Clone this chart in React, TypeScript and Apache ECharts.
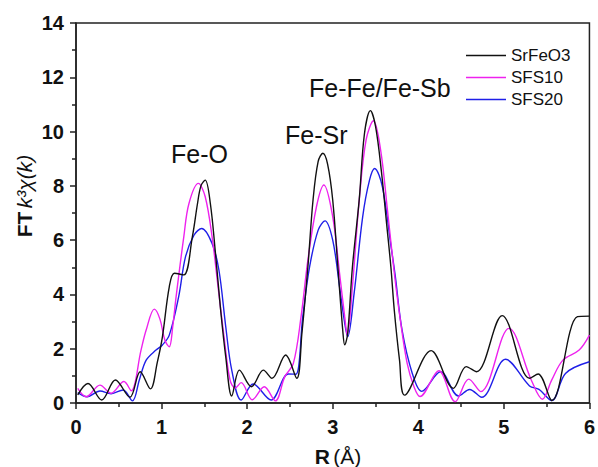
import React, { useEffect, useRef } from "react";
import * as echarts from "echarts";

// R (Å) positions and FT magnitudes for each sample
const rSrFeO3 = [0.02, 0.14, 0.30, 0.46, 0.63, 0.75, 0.87, 0.95, 1.01, 1.09, 1.15, 1.26, 1.36, 1.42, 1.46, 1.51, 1.57, 1.63, 1.69, 1.75, 1.82, 1.91, 2.05, 2.19, 2.29, 2.45, 2.58, 2.64, 2.71, 2.77, 2.83, 2.885, 2.94, 3.0, 3.06, 3.12, 3.14, 3.175, 3.23, 3.31, 3.37, 3.44, 3.50, 3.57, 3.63, 3.68, 3.72, 3.78, 3.84, 4.15, 4.41, 4.56, 4.68, 4.98, 5.30, 5.40, 5.56, 5.86, 6.0];
const ftSrFeO3 = [0.30, 0.72, 0.11, 0.85, 0.21, 1.15, 0.52, 1.5, 2.44, 4.28, 4.78, 4.72, 6.13, 7.35, 8.0, 8.21, 7.35, 5.51, 3.43, 1.7, 0.26, 1.21, 0.60, 1.21, 0.91, 1.77, 0.91, 2.57, 5.02, 7.48, 8.9, 9.2, 8.8, 7.48, 5.02, 2.57, 2.14, 2.57, 5.0, 7.5, 9.9, 10.77, 10.2, 8.5, 6.6, 5.0, 3.4, 1.6, 0.29, 1.93, 0.54, 1.34, 1.15, 3.22, 0.91, 1.07, 0.09, 3.18, 3.2];

const rSFS10 = [0.02, 0.12, 0.28, 0.41, 0.56, 0.645, 0.76, 0.82, 0.915, 0.98, 1.04, 1.09, 1.13, 1.17, 1.26, 1.32, 1.43, 1.51, 1.59, 1.66, 1.73, 1.80, 1.86, 1.93, 2.06, 2.20, 2.33, 2.44, 2.54, 2.63, 2.71, 2.81, 2.897, 3.0, 3.08, 3.14, 3.17, 3.23, 3.31, 3.39, 3.476, 3.56, 3.64, 3.72, 3.79, 3.87, 3.95, 4.02, 4.24, 4.43, 4.59, 4.73, 5.06, 5.32, 5.45, 5.56, 5.69, 5.88, 6.0];
const ftSFS10 = [0.54, 0.23, 0.66, 0.36, 0.79, 0.45, 1.95, 2.69, 3.46, 3.1, 2.3, 2.07, 2.8, 3.92, 6.13, 7.35, 8.09, 7.6, 6.13, 4.28, 2.44, 0.85, 0.55, 0.75, 0.12, 0.6, 0.08, 0.97, 1.46, 3.18, 5.27, 7.23, 8.03, 6.86, 4.78, 3.18, 2.5, 4.28, 7.48, 9.69, 10.4, 9.32, 7.1, 4.78, 3.06, 1.46, 0.6, 0.24, 1.19, 0.05, 0.88, 0.42, 2.75, 0.85, 0.14, 0.85, 1.58, 1.95, 2.5];

const rSFS20 = [0.02, 0.13, 0.28, 0.41, 0.55, 0.66, 0.74, 0.82, 0.935, 1.01, 1.09, 1.20, 1.28, 1.38, 1.47, 1.59, 1.67, 1.75, 1.82, 1.93, 2.07, 2.28, 2.48, 2.57, 2.65, 2.73, 2.83, 2.91, 3.0, 3.08, 3.14, 3.175, 3.25, 3.35, 3.43, 3.49, 3.58, 3.68, 3.73, 3.81, 3.93, 4.04, 4.26, 4.47, 4.60, 4.74, 5.02, 5.30, 5.41, 5.56, 5.72, 6.0];
const ftSFS20 = [0.38, 0.23, 0.44, 0.34, 0.48, 0.08, 0.85, 1.58, 1.95, 2.14, 2.5, 3.92, 5.39, 6.19, 6.43, 5.88, 4.9, 2.81, 1.21, 0.11, 0.7, 0.11, 1.07, 1.06, 3.18, 5.02, 6.37, 6.71, 6.0, 4.28, 2.94, 2.44, 4.04, 6.86, 8.21, 8.64, 7.97, 5.8, 4.7, 2.69, 1.09, 0.43, 1.15, 0.26, 0.5, 0.21, 1.61, 0.63, 0.5, 0.09, 1.09, 1.52];

const seriesNames = ["SrFeO3", "SFS10", "SFS20"];
const seriesColors = ["#111111", "#ee22ee", "#1f1fe8"];
const xTicks = { min: 0, max: 6, interval: 1 };
const yTicks = { min: 0, max: 14, interval: 2 };

const shellLabels = [
  { text: "Fe-O", x: 171, y: 154 },
  { text: "Fe-Sr", x: 285, y: 135 },
  { text: "Fe-Fe/Fe-Sb", x: 309, y: 88 },
];

const zip = (xs: number[], ys: number[]) => xs.map((x, i) => [x, ys[i]]);

export default function App() {
  const ref = useRef<HTMLDivElement>(null);

  useEffect(() => {
    if (!ref.current) return;
    const chart = echarts.init(ref.current, undefined, { renderer: "svg" });
    const font = "'Liberation Sans', Arial, Helvetica, sans-serif";
    const datasets = [
      zip(rSrFeO3, ftSrFeO3),
      zip(rSFS10, ftSFS10),
      zip(rSFS20, ftSFS20),
    ];
    chart.setOption({
      animation: false,
      textStyle: { fontFamily: font },
      grid: {
        left: 76,
        top: 23,
        right: 4,
        bottom: 64,
        show: true,
        borderColor: "#222",
        borderWidth: 1.5,
      },
      legend: {
        orient: "vertical",
        left: 461,
        top: 42,
        icon: "rect",
        itemWidth: 40,
        itemHeight: 1.5,
        itemGap: 5,
        textStyle: { fontSize: 17, color: "#111", fontFamily: font },
        data: seriesNames,
      },
      xAxis: {
        type: "value",
        min: xTicks.min,
        max: xTicks.max,
        interval: xTicks.interval,
        splitLine: { show: false },
        axisLine: { lineStyle: { color: "#222", width: 1.5 } },
        axisTick: { length: 6, lineStyle: { color: "#222", width: 1.5 } },
        minorTick: { show: true, splitNumber: 2, length: 4, lineStyle: { color: "#222", width: 1.5 } },
        axisLabel: { fontSize: 20, fontWeight: "bold", color: "#111", margin: 14, fontFamily: font },
      },
      yAxis: {
        type: "value",
        min: yTicks.min,
        max: yTicks.max,
        interval: yTicks.interval,
        splitLine: { show: false },
        axisLine: { lineStyle: { color: "#222", width: 1.5 } },
        axisTick: { length: 6, lineStyle: { color: "#222", width: 1.5 } },
        minorTick: { show: true, splitNumber: 2, length: 4, lineStyle: { color: "#222", width: 1.5 } },
        axisLabel: { fontSize: 20, fontWeight: "bold", color: "#111", margin: 12, fontFamily: font },
      },
      series: datasets.map((d, i) => ({
        name: seriesNames[i],
        type: "line",
        data: d,
        smooth: 0.35,
        showSymbol: false,
        symbol: "none",
        color: seriesColors[i],
        lineStyle: { width: 1.4, color: seriesColors[i] },
        z: 5 - i,
      })),
      graphic: [
        ...shellLabels.map((l) => ({
          type: "text",
          left: l.x,
          top: l.y - 13,
          style: { text: l.text, fontSize: 25, fill: "#111", fontFamily: font },
        })),
        {
          type: "text",
          x: 24,
          y: 196,
          rotation: Math.PI / 2,
          style: {
            text: "{b|FT} {i|k³χ(k)}",
            align: "center",
            verticalAlign: "middle",
            fill: "#111",
            rich: {
              b: { fontSize: 21, fontWeight: "bold", fontFamily: font, fill: "#111" },
              i: { fontSize: 21, fontStyle: "italic", fontFamily: font, fill: "#111" },
            },
          },
        },
        {
          type: "text",
          x: 338,
          y: 456,
          style: {
            text: "{b|R} {n|(Å)}",
            align: "center",
            verticalAlign: "middle",
            fill: "#111",
            rich: {
              b: { fontSize: 21, fontWeight: "bold", fontFamily: font, fill: "#111" },
              n: { fontSize: 21, fontFamily: font, fill: "#111" },
            },
          },
        },
      ],
    });
    return () => chart.dispose();
  }, []);

  return (
    <div
      ref={ref}
      style={{ position: "fixed", left: 0, top: 0, width: 598, height: 467, background: "#fff" }}
    />
  );
}
